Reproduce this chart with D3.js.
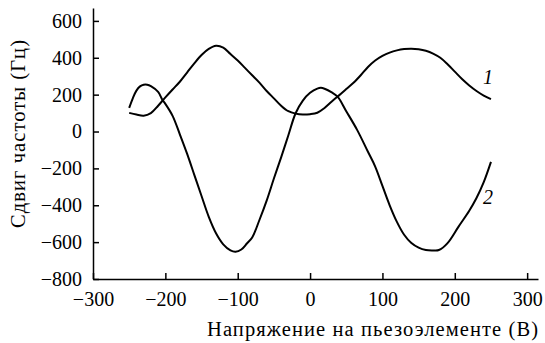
<!DOCTYPE html>
<html>
<head>
<meta charset="utf-8">
<script src="https://cdn.jsdelivr.net/npm/d3@7"></script>
<style>
  body { margin: 0; background: #fff; }
</style>
</head>
<body>
<script>
// data
var xTicks = [-300, -200, -100, 0, 100, 200, 300];
var yTicks = [-800, -600, -400, -200, 0, 200, 400, 600];

var curve1X = [-250, -240, -230, -220, -210, -200, -190, -180, -170, -160, -150, -140, -130, -120, -110, -100, -90, -80, -70, -60, -50, -40, -30, -20, -10, 0, 10, 20, 30, 40, 50, 60, 70, 80, 90, 100, 110, 120, 130, 140, 150, 160, 170, 180, 190, 200, 210, 220, 230, 240, 250];
var curve1Y = [101, 92, 86, 100, 140, 185, 228, 270, 320, 370, 415, 448, 465, 455, 420, 385, 345, 305, 265, 220, 180, 140, 110, 97, 92, 94, 102, 128, 163, 196, 230, 264, 305, 350, 385, 410, 428, 440, 447, 449, 446, 438, 423, 400, 365, 325, 285, 250, 220, 195, 176];

var curve2X = [-250, -245, -240, -235, -230, -225, -220, -210, -204, -200, -190, -180, -170, -160, -150, -140, -130, -120, -110, -103, -95, -87, -80, -70, -60, -50, -40, -30, -20, -10, 0, 10, 15, 20, 30, 38, 50, 65, 80, 90, 100, 110, 120, 130, 140, 150, 160, 170, 178, 190, 205, 220, 230, 240, 250];
var curve2Y = [128, 180, 222, 245, 254, 254, 246, 215, 171, 150, 85, -15, -120, -235, -350, -463, -552, -612, -645, -652, -640, -606, -575, -480, -375, -255, -140, -20, 99, 168, 210, 233, 237, 232, 212, 189, 110, 9, -110, -190, -295, -400, -490, -560, -605, -630, -643, -645, -643, -605, -517, -430, -361, -275, -165];

var width = 545, height = 343;
var font = "'Liberation Serif'";

var svg = d3.select("body").append("svg")
    .attr("width", width)
    .attr("height", height);

var x = d3.scaleLinear().domain([-300, 315]).range([93, 538]);
var y = d3.scaleLinear().domain([-800, 670]).range([279, 8]);

var minus = function(d) { return d < 0 ? "\u2212" + Math.abs(d) : d; };

// axes, ticks pointing inside
var xAxis = d3.axisBottom(x).tickValues(xTicks)
    .tickSizeInner(-6).tickSizeOuter(0).tickPadding(13)
    .tickFormat(minus);
var yAxis = d3.axisLeft(y).tickValues(yTicks)
    .tickSizeInner(-6).tickSizeOuter(0).tickPadding(11)
    .tickFormat(minus);

var gx = svg.append("g").attr("transform", "translate(0," + y(-800) + ")").call(xAxis);
var gy = svg.append("g").attr("transform", "translate(" + x(-300) + ",0)").call(yAxis);

[gx, gy].forEach(function(g) {
    g.selectAll("path, line").attr("stroke", "#000").attr("stroke-width", 1.5);
    g.selectAll("text").attr("fill", "#000")
        .style("font-family", font).style("font-size", "20px");
});

// curves
var line = d3.line()
    .x(function(d) { return x(d[0]); })
    .y(function(d) { return y(d[1]); })
    .curve(d3.curveCatmullRom.alpha(0.5));

svg.append("path")
    .datum(d3.zip(curve1X, curve1Y))
    .attr("d", line)
    .attr("fill", "none").attr("stroke", "#000").attr("stroke-width", 2);

svg.append("path")
    .datum(d3.zip(curve2X, curve2Y))
    .attr("d", line)
    .attr("fill", "none").attr("stroke", "#000").attr("stroke-width", 2);

// curve labels
svg.append("text").attr("x", 483).attr("y", 84)
    .style("font-family", font).style("font-size", "20px")
    .style("font-style", "italic").text("1");
svg.append("text").attr("x", 483).attr("y", 204)
    .style("font-family", font).style("font-size", "20px")
    .style("font-style", "italic").text("2");

// axis titles
svg.append("text")
    .attr("x", 207).attr("y", 336)
    .attr("textLength", 331).attr("lengthAdjust", "spacing")
    .style("font-family", font).style("font-size", "20.5px")
    .text("Напряжение на пьезоэлементе (В)");

svg.append("text")
    .attr("transform", "translate(25,228) rotate(-90)")
    .attr("textLength", 188).attr("lengthAdjust", "spacing")
    .style("font-family", font).style("font-size", "20.5px")
    .text("Сдвиг частоты (Гц)");
</script>
</body>
</html>
